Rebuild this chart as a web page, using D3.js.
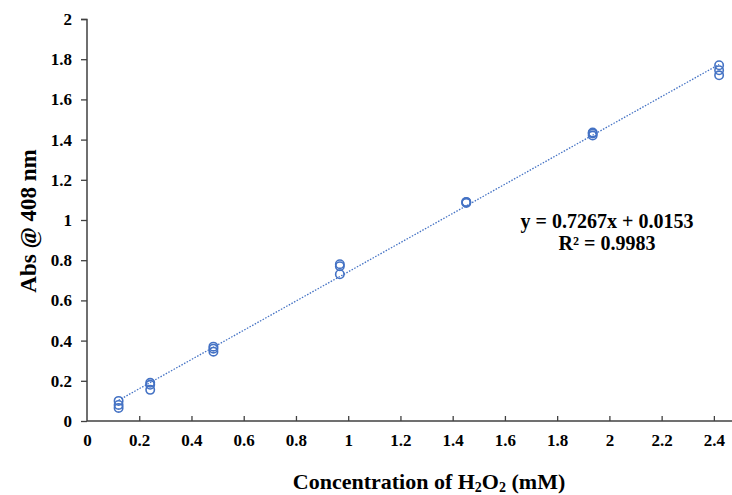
<!DOCTYPE html>
<html><head><meta charset="utf-8">
<script src="https://cdn.jsdelivr.net/npm/d3@7"></script>
<style>body{margin:0;background:#fff}svg{display:block}</style>
</head><body>
<svg id="c" width="732" height="495"></svg>
<script>
const concentrations = [0.121,0.121,0.121,0.242,0.242,0.242,0.484,0.484,0.484,0.968,0.968,0.968,1.452,1.452,1.452,1.936,1.936,1.936,2.42,2.42,2.42];
const absorbances   = [0.10,0.08,0.065,0.19,0.18,0.155,0.37,0.36,0.345,0.78,0.77,0.73,1.09,1.088,1.085,1.435,1.43,1.42,1.77,1.745,1.72];
const slope = 0.7267, intercept = 0.0153;
const xTicks = [0,0.2,0.4,0.6,0.8,1,1.2,1.4,1.6,1.8,2,2.2,2.4];
const yTicks = [0,0.2,0.4,0.6,0.8,1,1.2,1.4,1.6,1.8,2];
const eqLines = ["y = 0.7267x + 0.0153", "R² = 0.9983"];

const svg = d3.select("#c");
const x = d3.scaleLinear().domain([0,2.5]).range([87,740]);
const y = d3.scaleLinear().domain([0,2]).range([421,19]);
const font = "'Liberation Serif','Times New Roman',serif";
const axCol = "#404040", blue = "#4472C4";

// y axis
const ya = svg.append("g").attr("transform","translate(87,0)")
  .call(d3.axisLeft(y).tickValues(yTicks).tickSize(6).tickPadding(9).tickFormat(d=>d3.format("")(+d.toFixed(1))));
ya.select(".domain").attr("stroke",axCol).attr("stroke-width",1.5).attr("d","M-6,19.5H0V421");
ya.selectAll(".tick line").attr("stroke",axCol).attr("stroke-width",1.3);
ya.selectAll(".tick text").attr("font-family",font).attr("font-weight","bold").attr("font-size",17).attr("fill","#000");

// x axis
const xa = svg.append("g").attr("transform","translate(0,421)")
  .call(d3.axisBottom(x).tickValues(xTicks).tickSize(-5).tickPadding(13).tickFormat(d=>d3.format("")(+d.toFixed(1))));
xa.select(".domain").attr("stroke",axCol).attr("stroke-width",1.5).attr("d","M87,0H740");
xa.selectAll(".tick line").attr("stroke",axCol).attr("stroke-width",1.3);
xa.selectAll(".tick text").attr("font-family",font).attr("font-weight","bold").attr("font-size",17).attr("fill","#000");
xa.selectAll(".tick").filter(d=>d===0).select("line").remove();

// trendline
const xmin = d3.min(concentrations), xmax = d3.max(concentrations);
svg.append("line")
  .attr("x1",x(xmin)).attr("y1",y(slope*xmin+intercept))
  .attr("x2",x(xmax)).attr("y2",y(slope*xmax+intercept))
  .attr("stroke",blue).attr("stroke-width",1.3).attr("stroke-dasharray","1.5,1.5");

// points
svg.append("g").selectAll("circle").data(concentrations).join("circle")
  .attr("cx",(d)=>x(d)).attr("cy",(d,i)=>y(absorbances[i]))
  .attr("r",4.2).attr("fill","none").attr("stroke",blue).attr("stroke-width",1.6);

// equation
svg.append("g").selectAll("text").data(eqLines).join("text")
  .attr("x",607).attr("y",(d,i)=>228+i*22).attr("text-anchor","middle")
  .attr("font-family",font).attr("font-weight","bold").attr("font-size",20).attr("fill","#000")
  .text(d=>d);

// axis titles
svg.append("text").attr("transform","translate(36,221) rotate(-90)").attr("text-anchor","middle")
  .attr("font-family",font).attr("font-weight","bold").attr("font-size",23).attr("fill","#000")
  .text("Abs @ 408 nm");
const xt = svg.append("text").attr("x",429).attr("y",489).attr("text-anchor","middle")
  .attr("font-family",font).attr("font-weight","bold").attr("font-size",22).attr("fill","#000");
xt.append("tspan").text("Concentration of H");
xt.append("tspan").attr("font-size",14).attr("dy",3).text("2");
xt.append("tspan").attr("dy",-3).text("O");
xt.append("tspan").attr("font-size",14).attr("dy",3).text("2");
xt.append("tspan").attr("dy",-3).text(" (mM)");
</script>
</body></html>
